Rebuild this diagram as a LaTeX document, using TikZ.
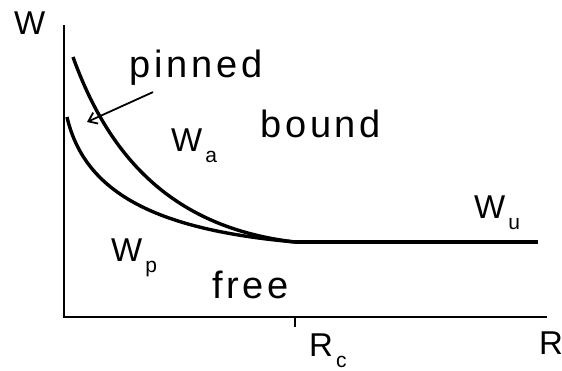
\documentclass[tikz,border=0pt]{standalone}
\usepackage{fontspec}
\setmainfont{Liberation Sans}
\newfontfamily\regionfont[LetterSpace=10]{Liberation Sans}
\usepackage{tikz}
\usetikzlibrary{arrows.meta, positioning, calc}

\newcommand{\lowsub}[1]{\kern3pt\raisebox{-11pt}{\fontsize{21}{21}\selectfont #1}}

\begin{document}
\begin{tikzpicture}[
        x=1pt, y=-1pt,
        axis/.style={line width=2pt},
        curve/.style={line width=3.4pt, line join=round},
        region/.style={inner sep=0pt, anchor=base west, font=\fontsize{38}{38}\regionfont},
        sym/.style={inner sep=0pt, anchor=base west, font=\fontsize{33}{33}\selectfont},
        pointer/.style={line width=1.8pt, -{Straight Barb[length=8pt, width=12pt, line width=1.8pt]}}
    ]
    \useasboundingbox (0,0) rectangle (562,370);

    % Axes
    \coordinate (origin) at (64,317);
    \draw[axis] (64,25) -- (origin) -- (547,317);
    \draw[axis] (295,317) -- (295,327);

    % Curves
    \coordinate (rc) at (295,242);
    \draw[curve] (73,57) .. controls (110,160) and (175,228) .. (rc);
    \draw[curve] (67,117) .. controls (85,195) and (160,230) .. (rc);
    \draw[curve] (rc) -- (538,242);

    % Labels
    \node[sym] (wlab) at (14,34) {W};
    \node[sym] (rlab) at (539,354) {R};
    \node[sym] (rclab) at (309,356) {R\lowsub{c}};
    \node[sym] (walab) at (171,151) {W\lowsub{a}};
    \node[sym] (wplab) at (111,261) {W\lowsub{p}};
    \node[sym] (wulab) at (474,218) {W\lowsub{u}};
    \node[region] (pinned) at (129,77) {pinned};
    \node[region] (bound) at (260,137) {bound};
    \node[region] (free) at (212,298) {free};

    % Pointer
    \coordinate (tip) at (87,122);
    \draw[pointer] ([shift={(24,7)}]pinned.south west) -- (tip);
\end{tikzpicture}
\end{document}
